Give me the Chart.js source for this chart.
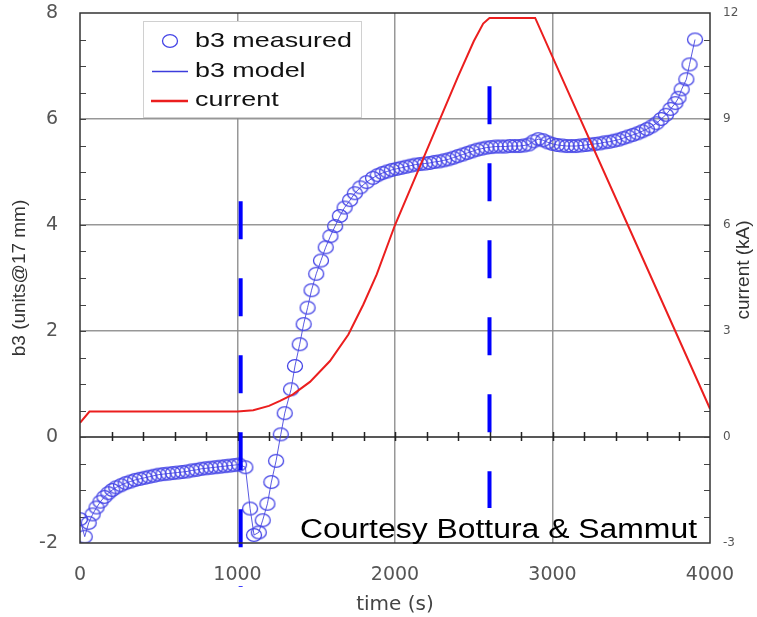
<!DOCTYPE html>
<html>
<head>
<meta charset="utf-8">
<script src="https://cdn.jsdelivr.net/npm/chart.js@4.4.1/dist/chart.umd.min.js"></script>
<style>
  html, body { margin: 0; padding: 0; background: #fff; }
  #wrap { width: 757px; height: 617px; }
</style>
</head>
<body>
<div id="wrap"><canvas id="myChart" width="757" height="617"></canvas></div>
<script>
const ctx = document.getElementById("myChart");

// b3 measured (units @17 mm) vs time (s)
const measuredTime = [
  0, 30, 55, 80, 105, 130, 155, 180, 205, 230, 260, 290, 320, 350, 380, 410,
  440, 470, 500, 530, 560, 590, 620, 650, 680, 710, 740, 770, 800, 830, 860,
  890, 920, 950, 980, 1010, 1050, 1080, 1105, 1135, 1160, 1190, 1215, 1245,
  1275, 1300, 1340, 1365, 1395, 1420, 1445, 1470, 1500, 1530, 1560, 1590, 1620,
  1650, 1680, 1715, 1745, 1780, 1820, 1860, 1890, 1920, 1950, 1980, 2010, 2040,
  2070, 2100, 2130, 2160, 2190, 2220, 2250, 2280, 2310, 2340, 2370, 2400, 2430,
  2460, 2490, 2520, 2550, 2580, 2610, 2640, 2670, 2700, 2730, 2760, 2790, 2820,
  2850, 2880, 2910, 2940, 2970, 3000, 3030, 3060, 3090, 3120, 3150, 3180, 3210,
  3240, 3270, 3300, 3330, 3360, 3390, 3420, 3450, 3480, 3510, 3540, 3570, 3600,
  3630, 3660, 3690, 3720, 3750, 3780, 3800, 3820, 3850, 3870, 3905,
];
const measuredB3 = [
  -1.55, -1.88, -1.62, -1.46, -1.33, -1.22, -1.13, -1.06, -1.0, -0.95, -0.91,
  -0.87, -0.84, -0.81, -0.79, -0.77, -0.75, -0.73, -0.71, -0.7, -0.69, -0.68,
  -0.67, -0.66, -0.65, -0.63, -0.62, -0.6, -0.59, -0.58, -0.57, -0.56, -0.55,
  -0.54, -0.53, -0.52, -0.57, -1.35, -1.85, -1.8, -1.57, -1.26, -0.85, -0.45,
  0.05, 0.45, 0.9, 1.34, 1.75, 2.13, 2.44, 2.77, 3.08, 3.33, 3.58, 3.79, 3.98,
  4.17, 4.33, 4.47, 4.6, 4.71, 4.81, 4.89, 4.94, 4.98, 5.01, 5.04, 5.06, 5.08,
  5.1, 5.12, 5.14, 5.15, 5.16, 5.17, 5.19, 5.2, 5.22, 5.24, 5.27, 5.3, 5.33,
  5.36, 5.39, 5.42, 5.44, 5.46, 5.47, 5.48, 5.48, 5.48, 5.49, 5.49, 5.49, 5.5,
  5.52, 5.58, 5.62, 5.6, 5.56, 5.53, 5.51, 5.5, 5.49, 5.49, 5.49, 5.5, 5.51,
  5.52, 5.53, 5.54, 5.56, 5.57, 5.59, 5.61, 5.64, 5.67, 5.7, 5.73, 5.77, 5.81,
  5.86, 5.92, 6.0, 6.08, 6.19, 6.3, 6.4, 6.56, 6.75, 7.03, 7.5,
];

// magnet current (kA) vs time (s)
const currentTime = [
  0, 60, 1000, 1100, 1200, 1270, 1350, 1460, 1587, 1704, 1799, 1884, 2000,
  2200, 2400, 2500, 2560, 2600, 2890, 3000, 3500, 3930, 4000,
];
const currentKA = [
  0.4, 0.72, 0.72, 0.76, 0.88, 1.02, 1.2, 1.56, 2.15, 2.9, 3.75, 4.6, 6.0,
  8.1, 10.2, 11.2, 11.7, 11.86, 11.86, 10.76, 5.78, 1.5, 0.8,
];

// dashed vertical markers
const markerTime = [1020, 2600];
const markerTop = [4.45, 6.62];
const markerBottom = [-2.83, -1.34];

const pts = (xs, ys) => xs.map((x, i) => ({ x: x, y: ys[i] }));

// open elliptical marker, like the stretched source picture
const ring = document.createElement("canvas");
ring.width = 18;
ring.height = 16;
(function () {
  const c = ring.getContext("2d");
  c.strokeStyle = "rgb(70, 70, 230)";
  c.lineWidth = 1.3;
  c.beginPath();
  c.ellipse(9, 8, 7.5, 6.4, 0, 0, Math.PI * 2);
  c.stroke();
})();

const markerSets = markerTime.map((t, i) => ({
  label: "marker" + i,
  data: [{ x: t, y: markerTop[i] }, { x: t, y: markerBottom[i] }],
  borderColor: "rgb(0, 0, 255)",
  borderWidth: 4,
  borderDash: [38, 39],
  borderCapStyle: "butt",
  pointRadius: 0,
  clip: false,
  yAxisID: "y",
}));

const gridGrey = "rgba(140, 140, 140, 0.9)";

// fixed axis box sizes; drop the label overhang padding chart.js adds
const fixBox = (size) => (s) => {
  if (s.isHorizontal()) s.height = size;
  else s.width = size;
  s.paddingTop = 0;
  s.paddingBottom = 0;
  s.paddingLeft = 0;
  s.paddingRight = 0;
};

const frame = {
  id: "frame",
  beforeDatasetsDraw(chart) {
    const { ctx, chartArea: a, scales } = chart;
    const y0 = scales.y.getPixelForValue(0);
    ctx.save();
    ctx.strokeStyle = "#222";
    ctx.lineWidth = 1.5;
    ctx.beginPath();
    ctx.moveTo(a.left, y0);
    ctx.lineTo(a.right, y0);
    for (let t = 200; t < 4000; t += 200) {
      const px = Math.round(scales.x.getPixelForValue(t)) + 0.5;
      ctx.moveTo(px, y0 - 5);
      ctx.lineTo(px, y0 + 4);
    }
    ctx.stroke();
    // small inner ticks on both vertical axes
    ctx.strokeStyle = "#444";
    ctx.lineWidth = 1;
    ctx.beginPath();
    for (let v = -1.5; v < 8; v += 0.5) {
      const py = Math.round(scales.y.getPixelForValue(v)) + 0.5;
      ctx.moveTo(a.left, py);
      ctx.lineTo(a.left + 6, py);
      ctx.moveTo(a.right, py);
      ctx.lineTo(a.right - 6, py);
    }
    ctx.stroke();
    ctx.restore();
  },
  afterDraw(chart) {
    const { ctx, chartArea: a } = chart;
    ctx.save();
    ctx.strokeStyle = "#333";
    ctx.lineWidth = 1.5;
    ctx.strokeRect(a.left, a.top, a.right - a.left, a.bottom - a.top);

    // right axis title, reading upward
    ctx.fillStyle = "#333";
    ctx.font = '19px "Liberation Sans", Arial, sans-serif';
    ctx.textAlign = "center";
    ctx.textBaseline = "middle";
    ctx.translate(744, 270);
    ctx.rotate(-Math.PI / 2);
    ctx.fillText("current (kA)", 0, 0);
    ctx.restore();

    // legend
    ctx.save();
    ctx.fillStyle = "#fff";
    ctx.strokeStyle = "#d0d0d0";
    ctx.lineWidth = 1;
    ctx.fillRect(143.5, 21.5, 218, 96);
    ctx.strokeRect(143.5, 21.5, 218, 96);
    ctx.drawImage(ring, 170 - 9, 41 - 8);
    ctx.strokeStyle = "rgb(60, 60, 220)";
    ctx.lineWidth = 1.3;
    ctx.beginPath();
    ctx.moveTo(152, 71.5);
    ctx.lineTo(188, 71.5);
    ctx.stroke();
    ctx.strokeStyle = "rgb(235, 30, 30)";
    ctx.lineWidth = 2.5;
    ctx.beginPath();
    ctx.moveTo(151, 101);
    ctx.lineTo(188, 101);
    ctx.stroke();
    ctx.fillStyle = "#111";
    ctx.font = '21px "Liberation Sans", Arial, sans-serif';
    ctx.textAlign = "left";
    ctx.textBaseline = "middle";
    const legendText = ["b3 measured", "b3 model", "current"];
    const legendY = [41, 71, 100];
    legendText.forEach((s, i) => {
      ctx.save();
      ctx.translate(195, legendY[i]);
      ctx.scale(1.28, 1);
      ctx.fillText(s, 0, 0);
      ctx.restore();
    });
    ctx.restore();

    // credit line
    ctx.save();
    ctx.fillStyle = "#000";
    ctx.font = '27px "Liberation Sans", Arial, sans-serif';
    ctx.textAlign = "left";
    ctx.textBaseline = "alphabetic";
    const credit = "Courtesy Bottura & Sammut";
    const w = ctx.measureText(credit).width;
    ctx.translate(300, 538);
    ctx.scale(397 / w, 1);
    ctx.fillText(credit, 0, 0);
    ctx.restore();
  },
};

const myChart = new Chart(ctx, {
  type: "line",
  data: {
    datasets: [
      ...markerSets,
      {
        label: "current",
        data: pts(currentTime, currentKA),
        borderColor: "rgb(235, 30, 30)",
        borderWidth: 2,
        pointRadius: 0,
        yAxisID: "y1",
      },
      {
        label: "b3 measured",
        data: pts(measuredTime, measuredB3),
        showLine: false,
        pointStyle: ring,
        pointRadius: 7,
        yAxisID: "y",
      },
      {
        label: "b3 model",
        data: pts(measuredTime, measuredB3),
        borderColor: "rgba(60, 60, 220, 0.85)",
        borderWidth: 1,
        pointRadius: 0,
        yAxisID: "y",
      },
    ],
  },
  options: {
    responsive: false,
    animation: false,
    devicePixelRatio: 1,
    layout: { autoPadding: false, padding: { top: 13, left: 0, right: 0, bottom: 0 } },
    plugins: {
      legend: { display: false },
      tooltip: { enabled: false },
    },
    scales: {
      x: {
        type: "linear",
        min: 0,
        max: 4000,
        afterFit: fixBox(74),
        ticks: {
          stepSize: 1000,
          padding: 21,
          color: "#555",
          font: { family: "DejaVu Sans", size: 19 },
          callback: (v) => String(v),
        },
        grid: {
          drawTicks: false,
          lineWidth: 1.5,
          color: (c) => (c.tick.value > 0 && c.tick.value < 4000 ? gridGrey : "rgba(0,0,0,0)"),
        },
        border: { display: false },
        title: {
          display: true,
          text: "time (s)",
          color: "#444",
          font: { family: "DejaVu Sans", size: 20 },
          padding: { top: 0, bottom: 0 },
        },
      },
      y: {
        position: "left",
        min: -2,
        max: 8,
        afterFit: fixBox(80),
        ticks: {
          stepSize: 2,
          padding: 22,
          color: "#555",
          font: { family: "DejaVu Sans", size: 19 },
        },
        grid: {
          drawTicks: false,
          lineWidth: 1.5,
          color: (c) => ([2, 4, 6].includes(c.tick.value) ? gridGrey : "rgba(0,0,0,0)"),
        },
        border: { display: false },
        title: {
          display: true,
          text: "b3 (units@17 mm)",
          color: "#333",
          font: { family: "Liberation Sans", size: 19 },
          padding: { top: 8, bottom: 0 },
        },
      },
      y1: {
        position: "right",
        min: -3,
        max: 12,
        afterFit: fixBox(47),
        ticks: {
          stepSize: 3,
          padding: 13,
          color: "#555",
          font: { family: "DejaVu Sans", size: 12 },
        },
        grid: { display: false, drawTicks: false },
        border: { display: false },
      },
    },
  },
  plugins: [frame],
});
</script>
</body>
</html>
